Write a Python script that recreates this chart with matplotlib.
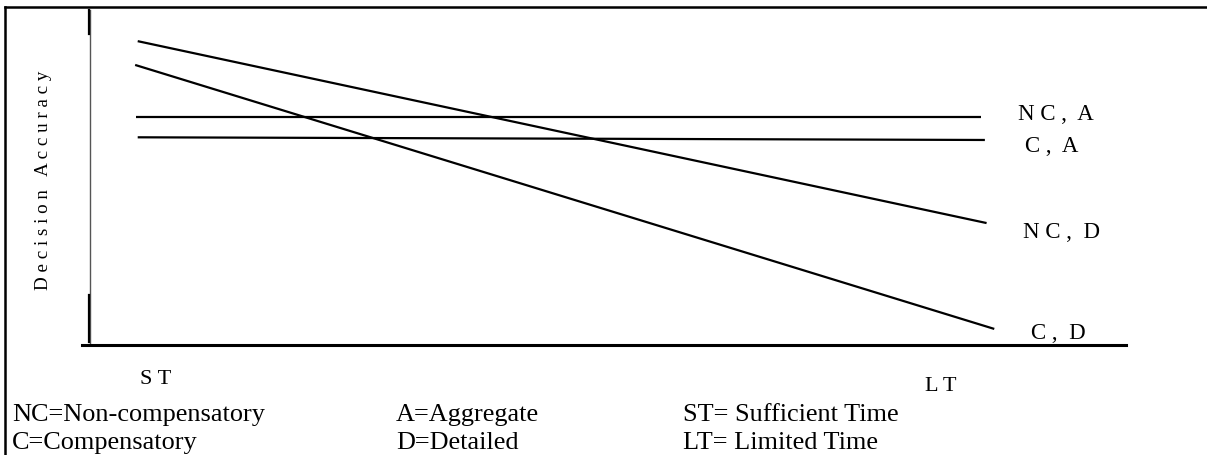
import matplotlib
matplotlib.use("Agg")
import matplotlib.pyplot as plt
from matplotlib.lines import Line2D

plt.rcParams['font.family'] = ['Liberation Serif', 'DejaVu Serif']

# Time condition: 0 = ST (sufficient time), 1 = LT (limited time)
series_names = ["NC, A", "C, A", "NC, D", "C, D"]
time_start = [0.00, 0.002, 0.002, -0.001]
time_end = [0.990, 0.994, 0.996, 1.005]
acc_start = [6.81, 6.20, 9.07, 8.36]
acc_end = [6.81, 6.12, 3.64, 0.48]
label_text = ["N C ,  A", "C ,  A", "N C ,  D", "C ,  D"]
label_x = [1.033, 1.041, 1.039, 1.048]
label_y = [6.88, 5.94, 3.35, 0.33]

x_tick_labels = ["S T", "L T"]
x_tick_pos = [0.005, 0.924]

legend_rows = [
    ["NC=Non-compensatory", "A=Aggregate", "ST= Sufficient Time"],
    ["C=Compensatory", "D=Detailed", "LT= Limited Time"],
]

W, H = 1207, 455
fig = plt.figure(figsize=(W / 100, H / 100), dpi=100)

ax_l, ax_r, ax_b, ax_t = 82, 1126, 345, 10
ax = fig.add_axes([ax_l / W, 1 - ax_b / H, (ax_r - ax_l) / W, (ax_b - ax_t) / H])
px_per_unit = 854.0
x0_px = 136.0
ax.set_xlim(-(x0_px - ax_l) / px_per_unit, (ax_r - x0_px) / px_per_unit)
ax.set_ylim(0, 10)
ax.set_xticks([])
ax.set_yticks([])
for s in ["top", "right", "left"]:
    ax.spines[s].set_visible(False)
ax.spines["bottom"].set_linewidth(2.2)
ax.spines["bottom"].set_color("black")

yx = (90 - ax_l) / (ax_r - ax_l)
ax.plot([yx, yx], [0.0, 1.0], transform=ax.transAxes, color="#555555", lw=1.0, clip_on=False)
ax.plot([yx - 0.0008, yx - 0.0008], [0.928, 1.0], transform=ax.transAxes, color="black", lw=1.6, clip_on=False)
ax.plot([yx - 0.0008, yx - 0.0008], [0.009, 0.149], transform=ax.transAxes, color="black", lw=1.6, clip_on=False)

for i in range(len(series_names)):
    ax.plot([time_start[i], time_end[i]], [acc_start[i], acc_end[i]], color="black", lw=1.6,
            solid_capstyle="butt", clip_on=False)
    ax.text(label_x[i], label_y[i], label_text[i], fontsize=16.5, ha="left", va="center", clip_on=False)

ax.text(x_tick_pos[0], -1.03, x_tick_labels[0], fontsize=16, ha="left", va="center", clip_on=False)
ax.text(x_tick_pos[1], -1.24, x_tick_labels[1], fontsize=16, ha="left", va="center", clip_on=False)

fig.text(44 / W, 1 - 180 / H, "D e c i s i o n   A c c u r a c y", rotation=90,
         fontsize=13.7, ha="center", va="center")

col_x = [12, 396, 683]
row_base = [421, 449]
for r, row in enumerate(legend_rows):
    for c, txt in enumerate(row):
        fig.text(col_x[c] / W, 1 - row_base[r] / H, txt, fontsize=18.9, ha="left", va="baseline")

fig.add_artist(Line2D([5 / W, 1.0], [1 - 7 / H, 1 - 7 / H], color="black", lw=1.8, transform=fig.transFigure))
fig.add_artist(Line2D([5 / W, 5 / W], [0.0, 1 - 7 / H], color="black", lw=1.8, transform=fig.transFigure))

fig.savefig("out.png", dpi=100)
